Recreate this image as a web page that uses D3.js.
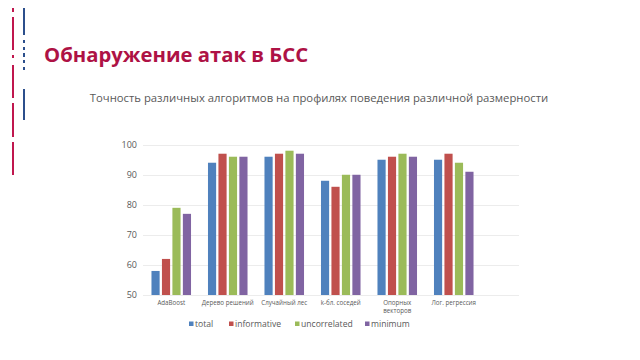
<!DOCTYPE html>
<html>
<head>
<meta charset="utf-8">
<script src="https://cdn.jsdelivr.net/npm/d3@7"></script>
<style>
  html, body { margin: 0; padding: 0; background: #fff; }
  svg { display: block; font-family: "Open Sans", sans-serif; }
</style>
</head>
<body>
<script>
(function(){    // wrapper

// Chart data
var categories = ["AdaBoost", "Дерево решений", "Случайный лес", "k-бл. соседей", "Опорных векторов", "Лог. регрессия"];
var seriesNames = ["total", "informative", "uncorrelated", "minimum"];
var total        = [58, 94, 96, 88, 95, 95];
var informative  = [62, 97, 97, 86, 96, 97];
var uncorrelated = [79, 96, 98, 90, 97, 94];
var minimum      = [77, 96, 97, 90, 96, 91];
var yTicks = [50, 60, 70, 80, 90, 100];
var colors = ["#4f81bd", "#c0504d", "#9bbb59", "#8064a2"];

var seriesValues = [total, informative, uncorrelated, minimum];

window.onload = draw;

function draw(){
    var width = 640, height = 360;

    var svg = d3.select("body")
        .append("svg")
        .attr("width", width)
        .attr("height", height);

    // Decorative dashed lines on the left
    svg.append("line")
        .attr("x1", 13).attr("x2", 13)
        .attr("y1", 8).attr("y2", 175)
        .style("stroke", "#c0174e")
        .style("stroke-width", 2)
        .style("stroke-dasharray", "4,5,33,5,3,7,33,5,34,5,33");
    svg.append("line")
        .attr("x1", 24).attr("x2", 24)
        .attr("y1", 8).attr("y2", 123)
        .style("stroke", "#2c4f8c")
        .style("stroke-width", 2)
        .style("stroke-dasharray", "27,5,3,4,3,3,4,3,3,4,3,19,31,5,5");

    // Slide title
    svg.append("text")
        .attr("x", 44)
        .attr("y", 62)
        .style("font-size", "20.3px")
        .style("font-weight", "bold")
        .style("fill", "#ae1245")
        .text("Обнаружение атак в БСС");

    // Chart title
    svg.append("text")
        .attr("x", 319)
        .attr("y", 102)
        .attr("text-anchor", "middle")
        .style("font-size", "11.3px")
        .style("fill", "#595959")
        .text("Точность различных алгоритмов на профилях поведения различной размерности");

    // Scales
    var x0 = d3.scaleBand()
        .domain(categories)
        .range([143, 482])
        .paddingInner(0.3)
        .paddingOuter(0.15);

    var x1 = d3.scaleBand()
        .domain(seriesNames)
        .range([0, x0.bandwidth()])
        .paddingInner(0.22);

    var y = d3.scaleLinear()
        .domain([50, 100])
        .range([295, 144.7]);

    // Gridlines
    svg.selectAll(".grid")
        .data(yTicks)
        .enter()
        .append("line")
        .attr("class", "grid")
        .attr("x1", 143)
        .attr("x2", 519)
        .attr("y1", d => Math.round(y(d)) + 0.5)
        .attr("y2", d => Math.round(y(d)) + 0.5)
        .style("stroke", "#ececec")
        .style("stroke-width", 1);

    // Y tick labels
    svg.selectAll(".ylab")
        .data(yTicks)
        .enter()
        .append("text")
        .attr("class", "ylab")
        .attr("x", 137)
        .attr("y", d => y(d) + 3)
        .attr("text-anchor", "end")
        .style("font-size", "9px")
        .style("fill", "#595959")
        .text(d => d);

    // Bars
    var groups = svg.selectAll(".group")
        .data(categories)
        .enter()
        .append("g")
        .attr("class", "group")
        .attr("transform", d => "translate(" + x0(d) + ",0)");

    groups.selectAll("rect")
        .data((d, i) => seriesNames.map((s, j) => ({series: s, value: seriesValues[j][i], idx: j})))
        .enter()
        .append("rect")
        .attr("x", d => x1(d.series))
        .attr("width", x1.bandwidth())
        .attr("y", d => y(d.value))
        .attr("height", d => y(50) - y(d.value))
        .style("fill", d => colors[d.idx]);

    // X category labels
    var labels = svg.selectAll(".xlab")
        .data(categories)
        .enter()
        .append("text")
        .attr("class", "xlab")
        .attr("text-anchor", "middle")
        .attr("x", d => x0(d) + x0.bandwidth() / 2)
        .attr("y", 305)
        .style("font-size", "6.2px")
        .style("fill", "#595959");

    labels.each(function(d){
        var words = d === "Опорных векторов" ? ["Опорных", "векторов"] : [d];
        var t = d3.select(this);
        words.forEach(function(w, k){
            t.append("tspan")
                .attr("x", t.attr("x"))
                .attr("dy", k === 0 ? 0 : 8)
                .text(w);
        });
    });

    // Legend
    var legendX = [189, 229, 295, 365];
    var legend = svg.selectAll(".legend")
        .data(seriesNames)
        .enter()
        .append("g")
        .attr("class", "legend")
        .attr("transform", (d, i) => "translate(" + legendX[i] + ",327)");

    legend.append("rect")
        .attr("x", 0)
        .attr("y", -5.5)
        .attr("width", 4.5)
        .attr("height", 4.5)
        .style("fill", (d, i) => colors[i]);

    legend.append("text")
        .attr("x", 6)
        .attr("y", 0)
        .style("font-size", "8.6px")
        .style("fill", "#595959")
        .text(d => d);
}

})();
</script>
</body>
</html>
